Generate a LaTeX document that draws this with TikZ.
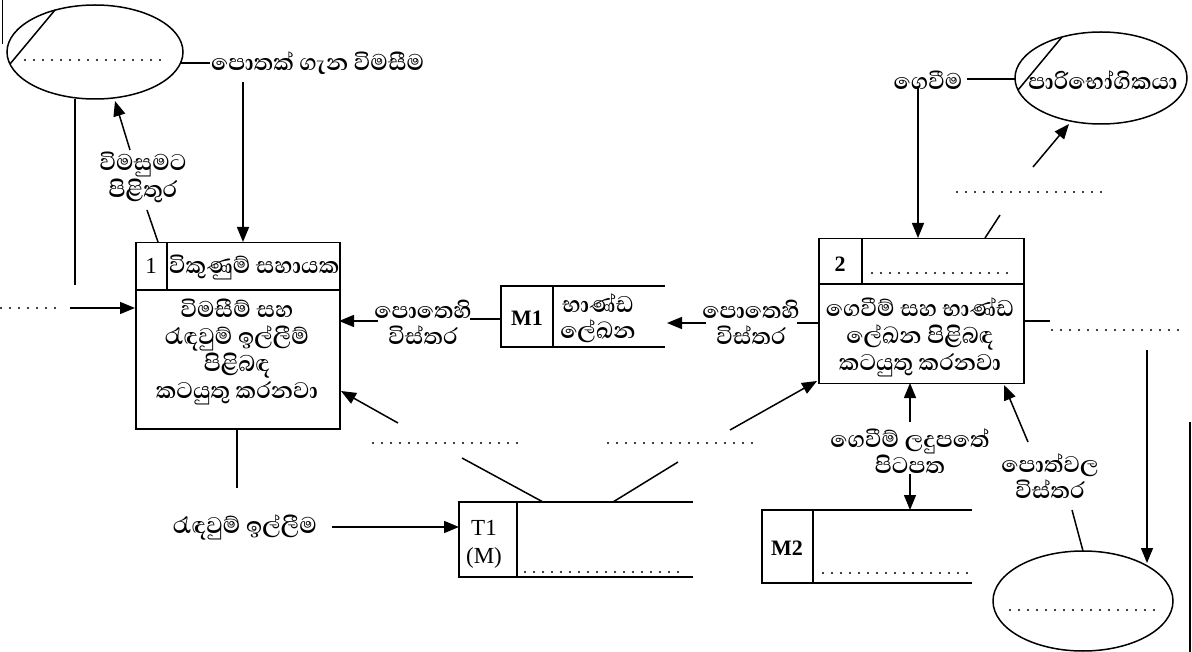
\documentclass[tikz,border=0pt]{standalone}
\usepackage{fontspec}
\setmainfont{Liberation Serif}
\newfontfamily\sinhalafont[Script=Sinhala]{Abhaya Libre}
\usetikzlibrary{arrows.meta,shapes.geometric}
\begin{document}
\begin{tikzpicture}[x=1pt,y=-1pt,
  ln/.style={line width=1.5pt},
  arr/.style={line width=1.5pt,-{Triangle[length=15pt,width=12pt]}},
  dotline/.style={line width=2.2pt,line cap=round,dash pattern=on 0pt off 9pt},
  si/.style={font=\sinhalafont\bfseries\fontsize{29}{27}\selectfont,inner sep=1pt,align=center},
  si2/.style={si,font=\sinhalafont\bfseries\fontsize{29}{26}\selectfont},
  ent/.style={ellipse,draw,line width=1.5pt,inner sep=0pt},
  lat/.style={font=\fontsize{23}{25}\selectfont,inner sep=0pt},
  latb/.style={font=\bfseries\fontsize{22}{24}\selectfont,inner sep=0pt}]
\useasboundingbox (0,0) rectangle (1192,652);
\fill[white] (0,0) rectangle (1192,652);
% scan border
\draw[line width=1pt] (2,0) -- (2,44);
\draw[line width=1.2pt] (1190,422) -- (1190,652);
% entities
\node[ent,minimum width=176,minimum height=94] (E1) at (95,52) {};
\coordinate (E1a) at (10,64); \coordinate (E1b) at (55,10);
\draw[ln] (E1a) -- (E1b);
\draw[dotline] (25,60) -- (165,60);
\node[ent,minimum width=172,minimum height=92] (E2) at (1101,78) {};
\coordinate (E2a) at (1018,90); \coordinate (E2b) at (1062,37);
\draw[ln] (E2a) -- (E2b);
\node[si] (E2t) at (1103,80) {පාරිභෝගිකයා};
\node[ent,minimum width=180,minimum height=100] (E3) at (1083,601) {};
\draw[dotline] (1010,610) -- (1155,610);
% process 1
\node[draw,ln,minimum width=204,minimum height=186,anchor=north west,inner sep=0] (P1) at (135,242) {};
\draw[ln] (135,290) -- (339,290);
\draw[ln] (167,242) -- (167,290);
\node[lat] (P1n) at (151,266) {1};
\node[si,anchor=west,inner sep=0] (P1h) at (169,267) {විකුණුම් සහායක};
\node[si] (P1b) at (237,352) {විමසීම් සහ\\රැඳවුම් ඉල්ලීම්\\පිළිබඳ\\කටයුතු කරනවා};
% process 2
\node[draw,ln,minimum width=205,minimum height=145,anchor=north west,inner sep=0] (P2) at (818,238) {};
\draw[ln] (818,284) -- (1023,284);
\draw[ln] (862,238) -- (862,284);
\node[latb] (P2n) at (840,264) {2};
\draw[dotline] (872,273) -- (1013,273);
\node[si] (P2b) at (920,337) {ගෙවීම් සහ භාණ්ඩ\\ලේඛන පිළිබඳ\\කටයුතු කරනවා};
% store M1
\draw[ln] (665,286) -- (501,286) -- (501,347) -- (665,347);
\draw[ln] (553,286) -- (553,347);
\node[latb] (M1) at (527,318) {M1};
\node[si2] (M1t) at (598,318) {භාණ්ඩ\\ලේඛන};
\coordinate (M1w) at (501,319);
% store T1
\draw[ln] (693,502) -- (459,502) -- (459,577) -- (693,577);
\draw[ln] (517,502) -- (517,577);
\node[lat] (T1) at (484,528) {T1};
\node[lat] (T1m) at (484,558) {(M)};
\draw[dotline] (525,572) -- (683,572);
% store M2
\draw[ln] (972,510) -- (762,510) -- (762,583) -- (972,583);
\draw[ln] (813,510) -- (813,583);
\node[latb] (M2) at (787,548) {M2};
\draw[dotline] (823,573) -- (972,573);
% flows
\node[si,anchor=west] (Lq) at (210,63) {පොතක් ගැන විමසීම};
\draw[ln] (181,63) -- (Lq.west);
\coordinate (q1) at (243,82);
\draw[arr] (q1) -- (q1 |- P1.north);
\node[si] (Lr) at (143,177) {විමසුමට\\පිළිතුර};
\draw[ln] (158,242) -- (147,210);
\draw[arr] (130,150) -- (115,101);
\draw[ln] (75,99) -- (75,285);
\draw[dotline] (1,308) -- (62,308);
\coordinate (Ld) at (70,308);
\draw[arr] (Ld) -- (Ld -| P1.west);
\node[si2] (Lm1) at (423,322) {පොතෙහි\\විස්තර};
\draw[ln] (M1w) -- (470,319);
\draw[arr] (378,321) -- (339,321);
\node[si2] (Lm2) at (751,322) {පොතෙහි\\විස්තර};
\draw[ln] (818,323) -- (797,323);
\draw[arr] (706,323) -- (667,323);
\draw[ln] (237,428) -- (237,488);
\node[si] (Lreq) at (245,527) {රැඳවුම් ඉල්ලීම};
\draw[arr] (332,527) -- (459,527);
\draw[ln] (543,502) -- (462,458);
\draw[dotline] (373,443) -- (525,443);
\draw[arr] (398,423) -- (341,391);
\draw[ln] (613,502) -- (678,462);
\draw[dotline] (608,443) -- (760,443);
\draw[arr] (730,430) -- (817,381);
\node[si] (Lpay) at (928,80) {ගෙවීම};
\draw[ln] (967,79) -- (1015,79);
\draw[arr] (918,88) -- (918,238);
\draw[ln] (985,238) -- (1000,215);
\draw[dotline] (957,192) -- (1108,192);
\draw[arr] (1033,167) -- (1069,124);
\draw[ln] (1023,321) -- (1050,321);
\draw[dotline] (1052,330) -- (1180,330);
\draw[arr] (1147,350) -- (1147,563);
\node[si2] (Lrec) at (910,451) {ගෙවීම් ලදුපතේ\\පිටපත};
\draw[arr] (910,422) -- (910,383);
\draw[arr] (910,474) -- (910,510);
\node[si2] (Lbk) at (1050,476) {පොත්වල\\විස්තර};
\draw[arr] (1028,442) -- (1004,385);
\draw[ln] (1072,510) -- (1083,551);
\end{tikzpicture}
\end{document}
